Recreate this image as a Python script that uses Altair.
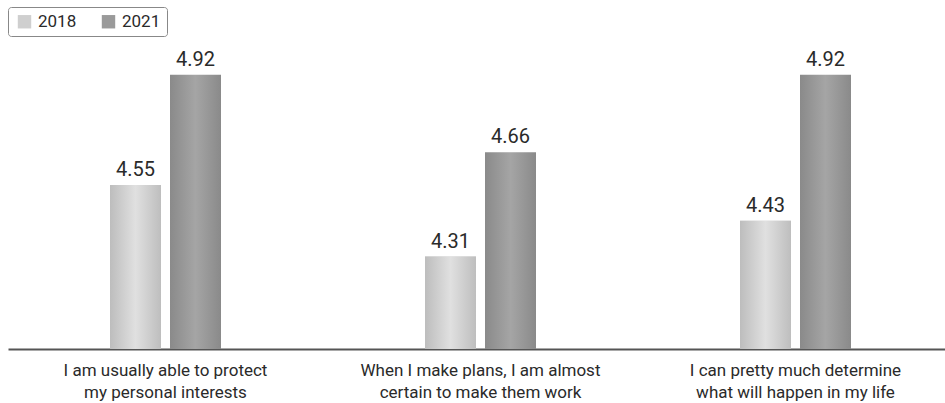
import altair as alt
import pandas as pd

categories = [
    "I am usually able to protect|my personal interests",
    "When I make plans, I am almost|certain to make them work",
    "I can pretty much determine|what will happen in my life",
]
years = ["2018", "2021"]
values_2018 = [4.55, 4.31, 4.43]
values_2021 = [4.92, 4.66, 4.92]
y_base = 4.0

rows = []
for c, v in zip(categories, values_2018):
    rows.append({"cat": c, "year": "2018", "value": v})
for c, v in zip(categories, values_2021):
    rows.append({"cat": c, "year": "2021", "value": v})
df = pd.DataFrame(rows)

FONT = "Roboto"
xenc = alt.X("cat:N", sort=categories, title=None,
             scale=alt.Scale(range=[0, 945], paddingInner=0, paddingOuter=0),
             axis=alt.Axis(labelExpr="split(datum.label, '|')", labelAngle=0,
                           labelFontSize=17, labelColor="#2a2a2a", labelFont=FONT,
                           labelLimit=0, labelLineHeight=22, labelPadding=13, ticks=False,
                           domainColor="#555", domainWidth=2, grid=False))
xplain = alt.X("cat:N", sort=categories)
yscale = alt.Scale(domain=[y_base, 5.0], nice=False, zero=False)
yenc = alt.Y("value:Q", scale=yscale, axis=None)
y2enc = alt.Y2(datum=y_base)

grad18 = alt.Gradient(gradient="linear", x1=0, x2=1, y1=0, y2=0,
                      stops=[alt.GradientStop(offset=0, color="#bdbdbd"),
                             alt.GradientStop(offset=0.5, color="#e0e0e0"),
                             alt.GradientStop(offset=1, color="#bebebe")])
grad21 = alt.Gradient(gradient="linear", x1=0, x2=1, y1=0, y2=0,
                      stops=[alt.GradientStop(offset=0, color="#8a8a8a"),
                             alt.GradientStop(offset=0.5, color="#a5a5a5"),
                             alt.GradientStop(offset=1, color="#8a8a8a")])

base = alt.Chart(df)

legend_layer = base.transform_filter("datum.year == '2018'").mark_bar(
    width=51, xOffset=-30
).encode(
    x=xenc, y=yenc, y2=y2enc,
    color=alt.Color("year:N", scale=alt.Scale(domain=years, range=["#cfcfcf", "#9a9a9a"]),
                    legend=alt.Legend(title=None, orient="none", legendX=0, legendY=-44,
                                      direction="horizontal", symbolType="square",
                                      symbolSize=180, symbolStrokeWidth=0,
                                      labelFontSize=17, labelFont=FONT, labelColor="#2a2a2a",
                                      strokeColor="#888", cornerRadius=3,
                                      padding=6, columnPadding=21, symbolOffset=2,
                                      labelOffset=5)),
)

b18 = base.transform_filter("datum.year == '2018'").mark_bar(
    width=51, xOffset=-30, color=grad18
).encode(x=xplain, y=yenc, y2=y2enc)
b21 = base.transform_filter("datum.year == '2021'").mark_bar(
    width=51, xOffset=30, color=grad21
).encode(x=xplain, y=yenc, y2=y2enc)

t18 = base.transform_filter("datum.year == '2018'").mark_text(
    xOffset=-30, dy=-5, baseline="bottom", fontSize=20, font=FONT, color="#2a2a2a"
).encode(x=xplain, y=yenc, text=alt.Text("value:Q", format=".2f"))
t21 = base.transform_filter("datum.year == '2021'").mark_text(
    xOffset=30, dy=-5, baseline="bottom", fontSize=20, font=FONT, color="#2a2a2a"
).encode(x=xplain, y=yenc, text=alt.Text("value:Q", format=".2f"))

chart = alt.layer(legend_layer, b18, b21, t18, t21).properties(
    width=937, height=298,
    autosize=alt.AutoSizeParams(type="none"),
    padding={"left": 8, "top": 51, "right": 0, "bottom": 54},
    background="white",
).configure_view(stroke=None)

chart.save("out.html", embed_options={"renderer": "svg", "actions": False})
